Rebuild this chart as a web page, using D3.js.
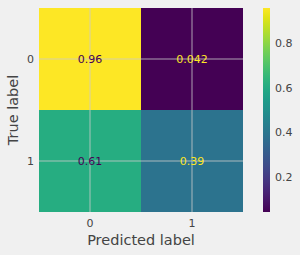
<!DOCTYPE html>
<html>
<head>
<meta charset="utf-8">
<script src="https://cdn.jsdelivr.net/npm/d3@7"></script>
<style>
  body { margin: 0; background: #f0f0f0; }
  svg { display: block; font-family: "DejaVu Sans", sans-serif; }
</style>
</head>
<body>
<svg id="chart"></svg>
<script>
// confusion matrix data (normalized by row)
const trueLabels = ["0", "1"];
const predLabels = ["0", "1"];
const values = [
  [0.96, 0.042],
  [0.61, 0.39]
];
const cbarTicks = [0.2, 0.4, 0.6, 0.8];

const width = 300, height = 255;
const plot = { left: 39, top: 8, right: 243, bottom: 212 };

const svg = d3.select("#chart")
    .attr("width", width)
    .attr("height", height);

svg.append("rect")
    .attr("width", width).attr("height", height)
    .attr("fill", "#f0f0f0");

const flat = values.flat();
const vmin = d3.min(flat), vmax = d3.max(flat);
const color = d3.scaleSequential(d3.interpolateViridis).domain([vmin, vmax]);

const x = d3.scaleBand().domain(predLabels).range([plot.left, plot.right]);
const y = d3.scaleBand().domain(trueLabels).range([plot.top, plot.bottom]);

const cells = [];
values.forEach((row, i) => row.forEach((v, j) => cells.push({ t: trueLabels[i], p: predLabels[j], v })));

svg.append("g").selectAll("rect")
    .data(cells)
    .enter().append("rect")
    .attr("x", d => x(d.p))
    .attr("y", d => y(d.t))
    .attr("width", x.bandwidth())
    .attr("height", y.bandwidth())
    .attr("fill", d => color(d.v));

// grid lines through cell centres
const grid = svg.append("g")
    .attr("stroke", "#cbcbcb")
    .attr("stroke-opacity", 0.8)
    .attr("stroke-width", 1);
grid.selectAll(".gx").data(predLabels).enter().append("line")
    .attr("x1", d => x(d) + x.bandwidth() / 2).attr("x2", d => x(d) + x.bandwidth() / 2)
    .attr("y1", plot.top).attr("y2", plot.bottom);
grid.selectAll(".gy").data(trueLabels).enter().append("line")
    .attr("y1", d => y(d) + y.bandwidth() / 2).attr("y2", d => y(d) + y.bandwidth() / 2)
    .attr("x1", plot.left).attr("x2", plot.right);

// cell values, dark text on bright cells and vice versa
const mid = (vmin + vmax) / 2;
svg.append("g").selectAll("text")
    .data(cells)
    .enter().append("text")
    .attr("x", d => x(d.p) + x.bandwidth() / 2)
    .attr("y", d => y(d.t) + y.bandwidth() / 2)
    .attr("dy", "0.35em")
    .attr("text-anchor", "middle")
    .style("font-size", "11px")
    .attr("fill", d => d.v < mid ? color(vmax) : color(vmin))
    .text(d => d3.format(".2g")(d.v));

// axes tick labels
svg.append("g").selectAll("text")
    .data(predLabels)
    .enter().append("text")
    .attr("x", d => x(d) + x.bandwidth() / 2)
    .attr("y", plot.bottom + 14.5)
    .attr("text-anchor", "middle")
    .style("font-size", "11px")
    .attr("fill", "#444")
    .text(d => d);

svg.append("g").selectAll("text")
    .data(trueLabels)
    .enter().append("text")
    .attr("x", plot.left - 5)
    .attr("y", d => y(d) + y.bandwidth() / 2)
    .attr("dy", "0.35em")
    .attr("text-anchor", "end")
    .style("font-size", "11px")
    .attr("fill", "#444")
    .text(d => d);

svg.append("text")
    .attr("x", (plot.left + plot.right) / 2)
    .attr("y", 245)
    .attr("text-anchor", "middle")
    .style("font-size", "14.5px")
    .attr("fill", "#444")
    .text("Predicted label");

svg.append("text")
    .attr("transform", `translate(18, ${(plot.top + plot.bottom) / 2}) rotate(-90)`)
    .attr("text-anchor", "middle")
    .style("font-size", "14.5px")
    .attr("fill", "#444")
    .text("True label");

// colorbar
const cb = { x: 263, w: 7 };
const cbScale = d3.scaleLinear().domain([vmin, vmax]).range([plot.bottom, plot.top]);

const defs = svg.append("defs");
const grad = defs.append("linearGradient")
    .attr("id", "cbgrad")
    .attr("x1", 0).attr("y1", 1).attr("x2", 0).attr("y2", 0);
d3.range(0, 1.0001, 0.05).forEach(s => {
  grad.append("stop").attr("offset", s).attr("stop-color", d3.interpolateViridis(s));
});

svg.append("rect")
    .attr("x", cb.x).attr("y", plot.top)
    .attr("width", cb.w).attr("height", plot.bottom - plot.top)
    .attr("fill", "url(#cbgrad)");

svg.append("g").selectAll("text")
    .data(cbarTicks)
    .enter().append("text")
    .attr("x", cb.x + cb.w + 5)
    .attr("y", d => cbScale(d))
    .attr("dy", "0.35em")
    .style("font-size", "11px")
    .attr("fill", "#444")
    .text(d => d3.format(".1f")(d));
</script>
</body>
</html>
